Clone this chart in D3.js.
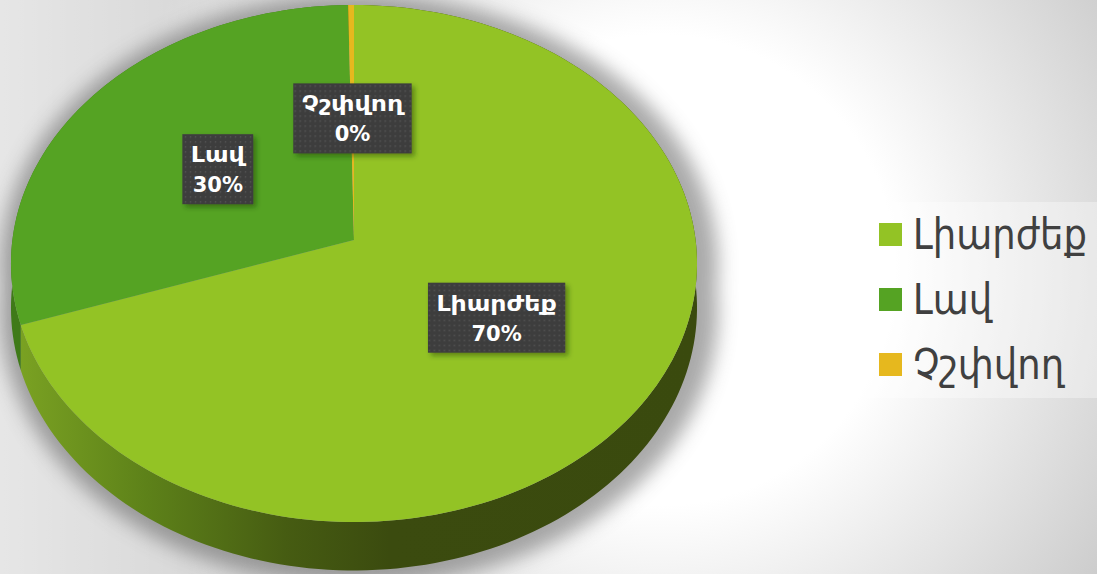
<!DOCTYPE html>
<html><head><meta charset="utf-8">
<script src="https://cdn.jsdelivr.net/npm/d3@7"></script>
<style>html,body{margin:0;padding:0;overflow:hidden;background:#fff}</style>
</head><body><svg id="c" width="1097" height="574"></svg>
<script>
// ---- data ----
const categories = ["Լիարժեք", "Լավ", "Չշփվող"];
const values = [70, 30, 0.3];
// ---- styles ----
const topColors = ["#93c325", "#55a323", "#e6b81e"];
const wallColors = ["url(#wallGrad)", "#3f7a18", "#8a6a0c"];

const W = 1097, H = 574;
const svg = d3.select("#c");
const defs = svg.append("defs");

// background
const bg = defs.append("radialGradient").attr("id", "bgGrad")
  .attr("gradientUnits", "userSpaceOnUse").attr("cx", 660).attr("cy", 270).attr("r", 560);
bg.append("stop").attr("offset", 0).attr("stop-color", "#ffffff");
bg.append("stop").attr("offset", 0.42).attr("stop-color", "#ffffff");
bg.append("stop").attr("offset", 1).attr("stop-color", "#c8c8c8");
svg.append("rect").attr("width", W).attr("height", H).attr("fill", "url(#bgGrad)");
const lg = defs.append("linearGradient").attr("id", "leftGrad");
lg.append("stop").attr("offset", 0).attr("stop-color", "#fff").attr("stop-opacity", 0.55);
lg.append("stop").attr("offset", 1).attr("stop-color", "#fff").attr("stop-opacity", 0);
svg.append("rect").attr("width", 420).attr("height", H).attr("fill", "url(#leftGrad)");

// wall gradient
const wg = defs.append("linearGradient").attr("id", "wallGrad")
  .attr("gradientUnits", "userSpaceOnUse").attr("x1", 10).attr("x2", 700).attr("y1", 0).attr("y2", 0);
[[0, "#7ca423"], [0.2, "#5d8119"], [0.4, "#465c12"], [0.55, "#3b4b0f"], [1, "#3a4a0e"]]
  .forEach(([o, c]) => wg.append("stop").attr("offset", o).attr("stop-color", c));

// filters
const sh = defs.append("filter").attr("id", "pieShadow").attr("x", "-20%").attr("y", "-20%").attr("width", "140%").attr("height", "140%");
sh.append("feGaussianBlur").attr("stdDeviation", 9);
const ls = defs.append("filter").attr("id", "lblShadow").attr("x", "-20%").attr("y", "-20%").attr("width", "150%").attr("height", "150%");
ls.append("feDropShadow").attr("dx", 3).attr("dy", 3).attr("stdDeviation", 2.5)
  .attr("flood-color", "#1a3300").attr("flood-opacity", 0.45);
const pat = defs.append("pattern").attr("id", "dots").attr("patternUnits", "userSpaceOnUse")
  .attr("width", 5).attr("height", 5);
pat.append("rect").attr("width", 5).attr("height", 5).attr("fill", "#3d3d3d");
pat.append("rect").attr("x", 2).attr("y", 2).attr("width", 1.4).attr("height", 1.4).attr("fill", "#565656");

// ---- 3D projection of the pie plane ----
const cx = 354, cy = 240;     // projected centre
const kx = 341.6, ky = 256.4, p = 0.0909, depth = 44;
const rScale = d3.scaleLinear().domain([0, 1]).range([0, 1]);
function proj(a, f) {
  const r = rScale(f);
  const u = r * Math.sin(a), v = r * Math.cos(a);
  const den = 1 + p * v;
  return [cx + kx * u / den, cy - ky * v / den, depth / den];
}
const pie = d3.pie().sort(null).value(d => d);
const arcs = pie(values);
const line = d3.line();
const N = 240;
function arcPts(a0, a1, down) {
  const n = Math.max(2, Math.ceil(N * (a1 - a0) / (2 * Math.PI)));
  return d3.range(n + 1).map(i => {
    const a = a0 + (a1 - a0) * i / n;
    const q = proj(a, 1);
    return [q[0], q[1] + (down ? q[2] : 0)];
  });
}

// shadow
const shadowG = svg.append("g").attr("filter", "url(#pieShadow)")
  .attr("transform", "translate(354,300) scale(1.045) translate(-349,-297)")
  .attr("opacity", 0.5);
shadowG.append("path").attr("d", line(arcPts(0, 2 * Math.PI, false)) + "Z").attr("fill", "#555");
shadowG.append("path").attr("d", line(arcPts(0, 2 * Math.PI, true)) + "Z").attr("fill", "#555");
shadowG.append("path").attr("d", line(arcPts(Math.PI / 2, 3 * Math.PI / 2, false).concat(arcPts(Math.PI / 2, 3 * Math.PI / 2, true).reverse())) + "Z").attr("fill", "#555");

// walls
svg.append("g").selectAll("path").data(arcs).join("path")
  .attr("d", d => line(arcPts(d.startAngle, d.endAngle, false).concat(arcPts(d.startAngle, d.endAngle, true).reverse())) + "Z")
  .attr("fill", (d, i) => wallColors[i]);

// top faces
const c0 = proj(0, 0);
svg.append("g").selectAll("path").data(arcs).join("path")
  .attr("d", d => line([[c0[0], c0[1]]].concat(arcPts(d.startAngle, d.endAngle, false))) + "Z")
  .attr("fill", (d, i) => topColors[i]);

// labels
const total = d3.sum(values);
const pct = d3.format(".0%");
const lblG = svg.append("g").attr("font-family", "'DejaVu Sans', sans-serif")
  .attr("font-weight", "bold").attr("font-size", 21).attr("fill", "#fff");
arcs.forEach((d, i) => {
  const mid = (d.startAngle + d.endAngle) / 2;
  const c = proj(mid, 0.5);
  const g = lblG.append("g").attr("transform", `translate(${c[0]},${c[1] + 1})`);
  const box = g.append("rect").attr("fill", "url(#dots)").attr("filter", "url(#lblShadow)");
  const t1 = g.append("text").attr("text-anchor", "middle").attr("transform", "translate(0,-7) scale(1.2,1)").text(categories[i]);
  const t2 = g.append("text").attr("text-anchor", "middle").attr("y", 23).text(pct(values[i] / total));
  const w = Math.max(t1.node().getComputedTextLength() * 1.2, t2.node().getComputedTextLength()) + 17;
  box.attr("x", -w / 2).attr("y", -35).attr("width", w).attr("height", 70);
});

// legend
svg.append("rect").attr("x", 850).attr("y", 202).attr("width", 247).attr("height", 196)
  .attr("fill", "#fff").attr("opacity", 0.35);
const ly = d3.scaleBand().domain(categories).range([202, 397]).paddingInner(0).paddingOuter(0);
const leg = svg.append("g").selectAll("g").data(categories).join("g")
  .attr("transform", d => `translate(879,${ly(d) + ly.bandwidth() / 2})`);
leg.append("rect").attr("x", 0).attr("y", -11.5).attr("width", 23).attr("height", 23)
  .attr("fill", (d, i) => topColors[i]);
const legT = leg.append("text").attr("font-family", "'DejaVu Sans', sans-serif")
  .attr("font-size", 42).attr("fill", "#404040").text(d => d);
const natW = legT.nodes()[0].getComputedTextLength();
const sx = 174 / natW;
legT.attr("transform", `translate(34,14) scale(${sx},1)`);
</script>
</body></html>
